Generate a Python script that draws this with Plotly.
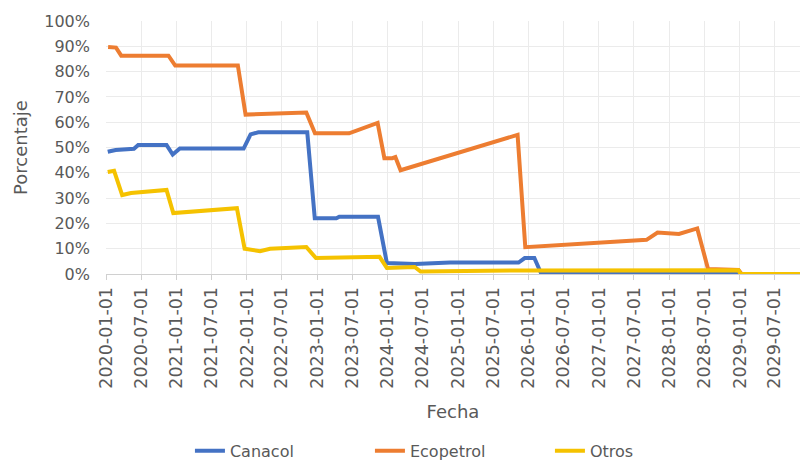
import plotly.graph_objects as go

# Share of production by operator over time (percent)
canacol_dates = [
    "2020-01-10", "2020-02-20", "2020-05-25", "2020-06-16", "2020-11-10",
    "2020-12-12", "2021-01-18", "2021-12-15", "2022-01-20", "2022-03-01",
    "2022-11-10", "2022-12-19", "2023-04-10", "2023-04-25", "2023-11-12",
    "2023-12-28", "2024-05-22", "2024-11-20", "2025-11-10", "2025-12-12",
    "2026-01-31", "2026-03-05", "2028-12-20", "2029-01-01", "2029-11-09",
]
canacol_pct = [
    48.3, 49.0, 49.5, 51.0, 51.0,
    47.2, 49.6, 49.6, 55.2, 56.0,
    56.0, 22.0, 22.0, 22.6, 22.6,
    4.3, 4.0, 4.5, 4.5, 6.3,
    6.3, 0.6, 0.4, 0.0, 0.0,
]

ecopetrol_dates = [
    "2020-01-12", "2020-02-22", "2020-03-20", "2020-11-20", "2020-12-25",
    "2021-11-15", "2021-12-25", "2022-11-05", "2022-12-20", "2023-06-15",
    "2023-11-10", "2023-12-15", "2024-01-25", "2024-02-10", "2024-03-08",
    "2025-11-05", "2025-12-15", "2027-09-05", "2027-11-01", "2028-02-20",
    "2028-05-25", "2028-07-20", "2028-12-25", "2029-01-10", "2029-11-09",
]
ecopetrol_pct = [
    89.7, 89.5, 86.3, 86.3, 82.4,
    82.4, 63.0, 63.8, 55.6, 55.6,
    59.7, 45.8, 45.8, 46.2, 41.0,
    55.0, 10.6, 13.5, 16.4, 15.8,
    18.0, 2.0, 1.6, 0.0, 0.0,
]

otros_dates = [
    "2020-01-10", "2020-02-12", "2020-03-25", "2020-05-10", "2020-11-10",
    "2020-12-15", "2021-11-10", "2021-12-20", "2022-03-10", "2022-05-01",
    "2022-11-05", "2022-12-25", "2023-11-20", "2023-12-28", "2024-05-20",
    "2024-06-20", "2025-12-01", "2028-12-25", "2029-01-05", "2029-11-09",
]
otros_pct = [
    40.3, 40.8, 31.2, 32.0, 33.2,
    24.1, 26.0, 10.0, 9.0, 10.0,
    10.7, 6.3, 6.8, 2.4, 2.8,
    1.0, 1.4, 1.5, 0.0, 0.0,
]

tick_dates = [f"{y}-{m}-01" for y in range(2020, 2030) for m in ("01", "07")]

series = [
    ("Canacol", canacol_dates, canacol_pct, "#4472C4"),
    ("Ecopetrol", ecopetrol_dates, ecopetrol_pct, "#ED7D31"),
    ("Otros", otros_dates, otros_pct, "#F5C200"),
]

FONT = "DejaVu Sans"
GREY = "#595959"
GRID = "#EBEBEB"

fig = go.Figure()
for name, xs, ys, color in series:
    fig.add_trace(go.Scatter(
        x=xs, y=ys, name=name, mode="lines",
        line=dict(color=color, width=4),
    ))

fig.update_layout(
    width=800, height=461,
    margin=dict(l=106, r=0, t=21, b=187, autoexpand=False),
    paper_bgcolor="white", plot_bgcolor="white",
    font=dict(family=FONT, color=GREY, size=16),
    showlegend=True,
    legend=dict(
        orientation="h", x=0.51, xanchor="center",
        yref="container", y=0.022, yanchor="middle",
        font=dict(family=FONT, size=16, color=GREY),
        entrywidth=135, traceorder="normal",
    ),
)

fig.update_xaxes(
    type="date",
    range=["2020-01-01", "2029-11-09"],
    tickmode="array", tickvals=tick_dates, ticktext=tick_dates,
    tickangle=-90,
    tickfont=dict(family=FONT, size=17.5, color=GREY),
    ticks="outside", ticklen=5, tickcolor="#D0D0D0",
    showgrid=True, gridcolor=GRID, gridwidth=1,
    showline=True, linecolor="#D0D0D0", linewidth=1,
    zeroline=False, automargin=False,
    title=dict(text="Fecha", font=dict(family=FONT, size=18, color=GREY), standoff=17),
)

fig.update_yaxes(
    range=[0, 100], dtick=10, ticksuffix="%",
    tickfont=dict(family=FONT, size=16, color=GREY),
    ticks="", ticklabelstandoff=15,
    showgrid=True, gridcolor=GRID, gridwidth=1,
    showline=False, zeroline=False, automargin=False,
    title=dict(text="Porcentaje", font=dict(family=FONT, size=18, color=GREY), standoff=11),
)

fig.write_html("out.html")
